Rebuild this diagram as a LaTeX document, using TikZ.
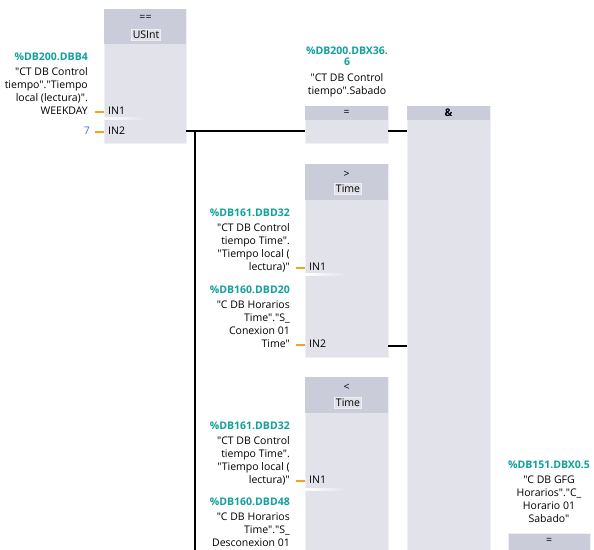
\documentclass[tikz,border=0pt]{standalone}
\usepackage{fontspec}
\setmainfont{Open Sans}[Ligatures=TeXOff]
\definecolor{bodyc}{HTML}{E1E2EA}
\definecolor{headc}{HTML}{CBCCDA}
\definecolor{edgec}{HTML}{EEEEF3}
\definecolor{typec}{HTML}{DFE0E8}
\definecolor{tealc}{HTML}{12A09C}
\definecolor{pinc}{HTML}{F4A21F}
\definecolor{bluec}{HTML}{3C78D8}
\newcommand{\tl}[1]{\textcolor{tealc}{\bfseries #1}}
\tikzset{
  blk/.style={fill=bodyc, draw=edgec, line width=0.8pt, anchor=north west, inner sep=0pt},
  hdr/.style={fill=headc},
  typebox/.style={fill=typec, draw=edgec, line width=0.6pt, inner sep=1.5pt, font=\fontsize{10.5}{12}\selectfont},
  optxt/.style={inner sep=0pt, font=\fontsize{10.5}{12}\selectfont},
  pinlab/.style={inner sep=0pt, anchor=west, font=\fontsize{10.5}{12}\selectfont},
  stub/.style={draw=pinc, line width=2.2pt},
  wire/.style={draw=black, line width=2.4pt},
  lab/.style={inner sep=0pt, align=right, anchor=base east, font=\fontsize{10.5}{13.2}\selectfont},
  labc/.style={inner sep=0pt, align=center, anchor=base, font=\fontsize{10.5}{13.2}\selectfont},
  hl/.style={left color=white, right color=bodyc},
}
\begin{document}
\begin{tikzpicture}[x=1pt,y=-1pt]
\useasboundingbox (0,0) rectangle (594,549);
\clip (0,0) rectangle (594,549);
\fill[white] (0,0) rectangle (594,549);

% boxes
\node[blk, minimum width=82pt, minimum height=134pt] (b1) at (104,9) {};
\fill[hdr] ([xshift=0.4pt,yshift=-0.4pt]b1.north west) rectangle ([xshift=-0.4pt,yshift=-35pt]b1.north east);
\node[blk, minimum width=83pt, minimum height=37pt] (eq1) at (305,106) {};
\fill[hdr] ([xshift=0.4pt,yshift=-0.4pt]eq1.north west) rectangle ([xshift=-0.4pt,yshift=-14pt]eq1.north east);
\node[blk, minimum width=83pt, minimum height=460pt] (andb) at (407,106) {};
\fill[hdr] ([xshift=0.4pt,yshift=-0.4pt]andb.north west) rectangle ([xshift=-0.4pt,yshift=-14pt]andb.north east);
\node[blk, minimum width=83pt, minimum height=193pt] (gt) at (305,164) {};
\fill[hdr] ([xshift=0.4pt,yshift=-0.4pt]gt.north west) rectangle ([xshift=-0.4pt,yshift=-36pt]gt.north east);
\node[blk, minimum width=83pt, minimum height=190pt] (lt) at (305,377) {};
\fill[hdr] ([xshift=0.4pt,yshift=-0.4pt]lt.north west) rectangle ([xshift=-0.4pt,yshift=-36pt]lt.north east);
\node[blk, fill=headc, minimum width=82pt, minimum height=30pt] (eq2) at (508,533) {};

% header texts
\node[optxt] (b1op) at (145.5,18) {==};
\node[typebox] (b1ty) at (146,35) {USInt};
\node[optxt] (eq1op) at (346.5,113) {=};
\node[optxt, font=\fontsize{10.5}{12}\selectfont\bfseries] (andop) at (448.5,113) {\&};
\node[optxt] (gtop) at (346.5,174) {>};
\node[typebox] (gtty) at (348,189) {Time};
\node[optxt] (ltop) at (346.5,387) {<};
\node[typebox] (ltty) at (348,403) {Time};
\node[optxt] (eq2op) at (549,541) {=};

% pins
\node[pinlab] (b1in1) at (108,111) {IN1};
\node[pinlab] (b1in2) at (108,131) {IN2};
\node[pinlab] (gtin1) at (309,267) {IN1};
\node[pinlab] (gtin2) at (309,344) {IN2};
\node[pinlab] (ltin1) at (309,480) {IN1};
\shade[hl] (104.4,117.3) rectangle (146,119.2);
\shade[hl] (305.4,273.3) rectangle (347,275.2);
\shade[hl] (305.4,488.3) rectangle (347,490.2);
\draw[stub] ([xshift=-13pt,yshift=-1.2pt]b1in1.west) -- ([xshift=-4pt,yshift=-1.2pt]b1in1.west);
\draw[stub] ([xshift=-13pt,yshift=-1.2pt]b1in2.west) -- ([xshift=-4pt,yshift=-1.2pt]b1in2.west);
\draw[stub] ([xshift=-13pt,yshift=-1.2pt]gtin1.west) -- ([xshift=-4pt,yshift=-1.2pt]gtin1.west);
\draw[stub] ([xshift=-13pt,yshift=-1.2pt]gtin2.west) -- ([xshift=-4pt,yshift=-1.2pt]gtin2.west);
\draw[stub] ([xshift=-13pt,yshift=-1.2pt]ltin1.west) -- ([xshift=-4pt,yshift=-1.2pt]ltin1.west);

% wires
\coordinate (b1out) at (186,131);
\coordinate (eq1in) at (305,131);
\coordinate (eq1out) at (388,131);
\coordinate (andin1) at (407,131);
\coordinate (gtout) at (388,346);
\coordinate (andin2) at (407,346);
\coordinate (rtop) at (195,131);
\coordinate (rbot) at (195,552);
\draw[wire] (b1out) -- (eq1in);
\draw[wire] (rtop) -- (rbot);
\draw[wire] (eq1out) -- (andin1);
\draw[wire] (gtout) -- (andin2);

% labels
\node[lab] (l1) at (88,114.6) {\tl{\%DB200.DBB4}\\[1.8pt]"CT DB Control\\tiempo"."Tiempo\\local (lectura)".\\WEEKDAY};
\node[inner sep=0pt, anchor=east, text=bluec, font=\fontsize{10.5}{12}\selectfont] (seven) at (90,131) {7};
\node[labc] (l2) at (347,94.6) {\tl{\%DB200.DBX36.}\\[-2pt]\tl{6}\\[2.5pt]"CT DB Control\\tiempo".Sabado};
\node[lab] (l3) at (290,270.6) {\tl{\%DB161.DBD32}\\[1.8pt]"CT DB Control\\tiempo Time".\\"Tiempo local (\\lectura)"};
\node[lab] (l4) at (290,347.6) {\tl{\%DB160.DBD20}\\[1.8pt]"C DB Horarios\\Time"."S\_\\Conexion 01\\Time"};
\node[lab] (l5) at (290,483.6) {\tl{\%DB161.DBD32}\\[1.8pt]"CT DB Control\\tiempo Time".\\"Tiempo local (\\lectura)"};
\node[lab] (l6) at (290,546.6) {\tl{\%DB160.DBD48}\\[1.8pt]"C DB Horarios\\Time"."S\_\\Desconexion 01};
\node[labc] (l7) at (549,522.6) {\tl{\%DB151.DBX0.5}\\[1.8pt]"C DB GFG\\Horarios"."C\_\\Horario 01\\Sabado"};
\end{tikzpicture}
\end{document}
